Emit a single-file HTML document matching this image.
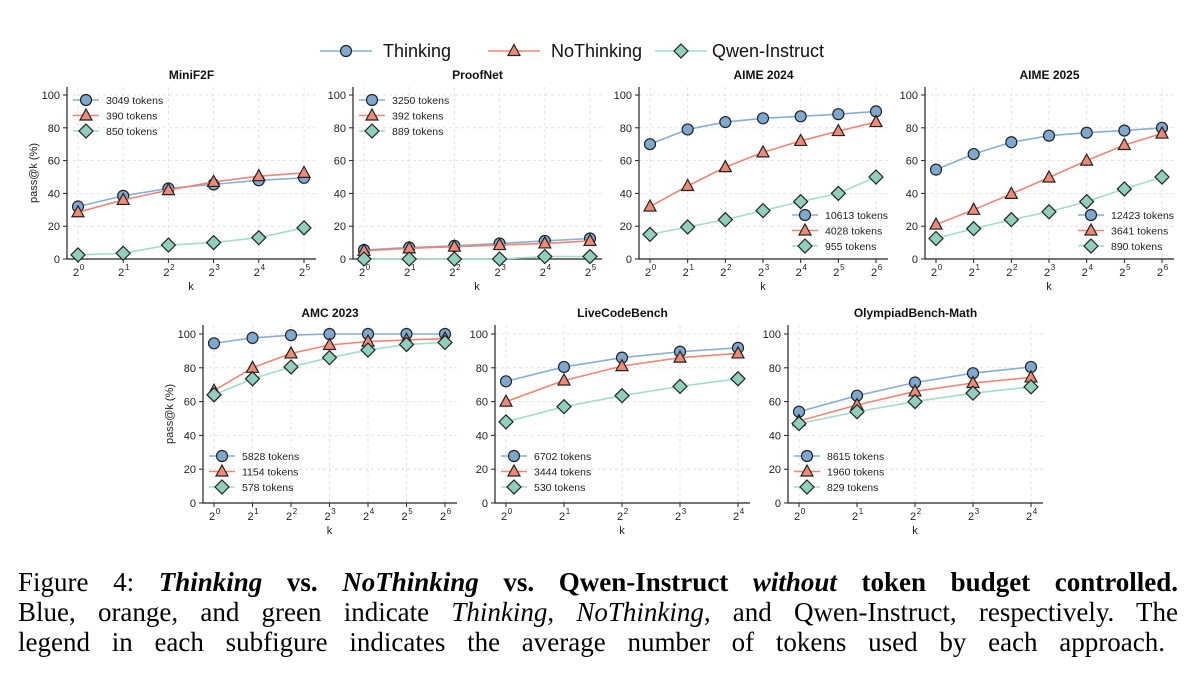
<!DOCTYPE html>
<html><head><meta charset="utf-8">
<style>
body{margin:0;background:#fff;width:1194px;height:680px;overflow:hidden;position:relative;font-family:"Liberation Sans","DejaVu Sans",sans-serif}
svg{position:absolute;left:0;top:0}
.cap{position:absolute;left:18px;width:1160px;font-family:"Liberation Serif",serif;font-size:27px;line-height:30px;white-space:nowrap}
.j{text-align:justify;text-align-last:justify}
</style></head><body>
<svg id="chart" width="1194" height="560" viewBox="0 0 1194 560"></svg>
<div class="cap j" style="top:567px">Figure 4: <b><i>Thinking</i> vs. <i>NoThinking</i> vs. Qwen-Instruct <i>without</i> token budget controlled.</b></div>
<div class="cap j" style="top:597px">Blue, orange, and green indicate <i>Thinking</i>, <i>NoThinking</i>, and Qwen-Instruct, respectively. The</div>
<div class="cap" style="top:627px;text-align:justify;text-align-last:justify;width:1147px">legend in each subfigure indicates the average number of tokens used by each approach.</div>
<script>
const titles=["MiniF2F","ProofNet","AIME 2024","AIME 2025","AMC 2023","LiveCodeBench","OlympiadBench-Math"];
const thinking=[[32,38.5,43,45.5,48,49.5],[5.5,7,8,9.5,11,12.5],[70,79,83.5,85.8,87,88.3,90],[54.5,64,71.2,75.2,77,78.3,80],[94.5,97.7,99.3,100,100,100,100],[72,80.5,86,89.5,91.8],[54,63.5,71.3,76.8,80.5]];
const noThinking=[[28.5,36,42,47,50.5,52.5],[5,6.5,7.5,8.5,9.5,11],[32,44.5,56,65,72,78,83.5],[21,30,39.7,49.7,60,69.5,76.5],[66.5,80,88.5,93.5,95.5,96.5,97.3],[60,72.5,81,86,88.5],[48.5,58,66,71,74.3]];
const qwen=[[2.5,3.5,8.5,10,13,19],[0,0,0,0,1.5,1.5],[15,19.5,24,29.5,35,40,50],[12.5,18.5,24,28.8,35,42.7,50],[64,73.5,80.5,86,90.5,93.8,95],[48,57,63.5,69,73.5],[47,54,60,65,68.7]];
const tokens=[["3049","390","850"],["3250","392","889"],["10613","4028","955"],["12423","3641","890"],["5828","1154","578"],["6702","3444","530"],["8615","1960","829"]];
const yTicks=[0,20,40,60,80,100];
const seriesNames=["Thinking","NoThinking","Qwen-Instruct"];
const L=[
 {x0:78,x1:304,y0:259,y1:95,top:87,leg:"ul",ylab:true},
 {x0:364,x1:590,y0:259,y1:95,top:87,leg:"ul"},
 {x0:650,x1:876,y0:259,y1:95,top:87,leg:"lr"},
 {x0:936,x1:1162,y0:259,y1:95,top:87,leg:"lr"},
 {x0:214,x1:445,y0:503,y1:334,top:325,leg:"ll",ylab:true},
 {x0:506,x1:738,y0:503,y1:334,top:325,leg:"ll"},
 {x0:799,x1:1031,y0:503,y1:334,top:325,leg:"ll"}];
const lineC=["#86afd6","#f08575","#a3dccb"],fillC=["#7fa8cf","#ee8a77","#90cfbd"];
const svg=document.getElementById('chart');const NS="http://www.w3.org/2000/svg";
function mk(t,a,p){const e=document.createElementNS(NS,t);for(const k in a)e.setAttribute(k,a[k]);(p||svg).appendChild(e);return e;}
function marker(g,s,x,y){
 if(s==0)return mk('circle',{cx:x,cy:y,r:5.5,fill:fillC[0],stroke:"#222","stroke-width":1.2},g);
 if(s==1)return mk('polygon',{points:`${x},${y-6.5} ${x+6},${y+4.5} ${x-6},${y+4.5}`,fill:fillC[1],stroke:"#222","stroke-width":1.2},g);
 return mk('polygon',{points:`${x},${y-7} ${x+7},${y} ${x},${y+7} ${x-7},${y}`,fill:fillC[2],stroke:"#222","stroke-width":1.2},g);
}
const tl=mk('g',{});


[[320,383],[488,551],[655,712]].forEach((p,s)=>{
 const e=mk('g',{},tl);
 
 
 mk('line',{x1:p[0],y1:51,x2:p[0]+52,y2:51,stroke:lineC[s],"stroke-width":1.6},e);
 marker(e,s,p[0]+26,51);
 const t=mk('text',{x:p[1],y:57,"font-size":18,fill:"#111"},e);t.textContent=seriesNames[s];
});
titles.forEach((title,i)=>{
 const l=L[i];const n=thinking[i].length;
 const g=mk('g',{});
 
 
 const X=j=>l.x0+(l.x1-l.x0)*j/(n-1);
 const Y=v=>l.y0+(l.y1-l.y0)*v/100;
 const sx=l.x0-11,ex=l.x1+12;
 yTicks.forEach(v=>{
  mk('line',{x1:sx,x2:ex,y1:Y(v),y2:Y(v),stroke:"#ddd","stroke-dasharray":"3,3","stroke-width":0.8},g);
  mk('line',{x1:sx-4,x2:sx,y1:Y(v),y2:Y(v),stroke:"#222"},g);
  const t=mk('text',{x:sx-7,y:Y(v)+4,"font-size":11,"text-anchor":"end",fill:"#222"},g);t.textContent=v;
 });
 for(let j=0;j<n;j++){
  mk('line',{x1:X(j),x2:X(j),y1:l.top,y2:l.y0,stroke:"#ddd","stroke-dasharray":"3,3","stroke-width":0.8},g);
  mk('line',{x1:X(j),x2:X(j),y1:l.y0,y2:l.y0+4,stroke:"#222"},g);
  const t=mk('text',{x:X(j)-2,y:l.y0+17,"font-size":11,"text-anchor":"middle",fill:"#222"},g);t.textContent="2";
  const s=mk('text',{x:X(j)+4,y:l.y0+11,"font-size":8,"text-anchor":"middle",fill:"#222"},g);s.textContent=j;
 }
 mk('line',{x1:sx,x2:sx,y1:l.top,y2:l.y0,stroke:"#222","stroke-width":1.2},g);
 mk('line',{x1:sx,x2:ex,y1:l.y0,y2:l.y0,stroke:"#222","stroke-width":1.2},g);
 const tt=mk('text',{x:(sx+ex)/2,y:l.top-8,"font-size":12,"font-weight":"bold","text-anchor":"middle",fill:"#111"},g);tt.textContent=title;
 
 
 const xl=mk('text',{x:(l.x0+l.x1)/2,y:l.y0+31,"font-size":11,"text-anchor":"middle",fill:"#222"},g);xl.textContent="k";
 if(l.ylab){const yl=mk('text',{x:0,y:0,"font-size":11,"text-anchor":"middle",fill:"#222",transform:`translate(${sx-30},${(l.top+l.y0)/2}) rotate(-90)`},g);yl.textContent="pass@k (%)";
  
  }
 [thinking[i],noThinking[i],qwen[i]].forEach((arr,s)=>{
  const sg=mk('g',{},g);
  
  
  mk('polyline',{points:arr.map((v,j)=>X(j)+","+Y(v)).join(" "),fill:"none",stroke:lineC[s],"stroke-width":1.6},sg);
  arr.forEach((v,j)=>{const m=marker(sg,s,X(j),Y(v));
   
   });
 });
 let lx,ly;
 if(l.leg=="ul"){lx=sx+6;ly=l.top+13;}
 else if(l.leg=="lr"){lx=ex-96;ly=l.y0-44;}
 else {lx=sx+6;ly=l.y0-47;}
 const lg=mk('g',{},g);
 
 
 tokens[i].forEach((tk,s)=>{
  const yy=ly+s*15.5;
  mk('line',{x1:lx,x2:lx+26,y1:yy,y2:yy,stroke:lineC[s],"stroke-width":1.6},lg);
  marker(lg,s,lx+13,yy);
  const t=mk('text',{x:lx+33,y:yy+4,"font-size":10.5,fill:"#222"},lg);t.textContent=tk+" tokens";
 });
});
</script>
</body></html>
